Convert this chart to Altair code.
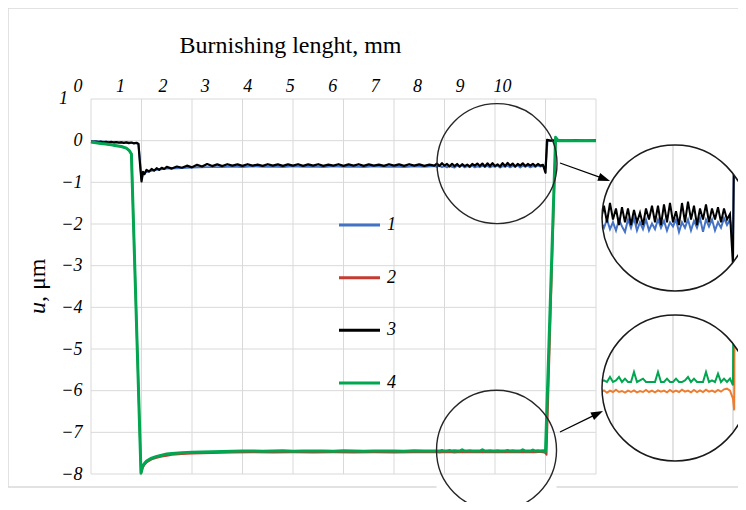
import altair as alt
import pandas as pd

SERIF = "Liberation Serif"

# ---------------- data ----------------
X_TICKS = [0, 1, 2, 3, 4, 5, 6, 7, 8, 9, 10]
Y_TICKS = [-8, -7, -6, -5, -4, -3, -2, -1, 0, 1]
Y_TOP_LABEL = [1]
INSET_TICKS = [7, 8, 9]
SERIES = [1, 2, 3, 4]
LEGEND_LABELS = ["1", "2", "3", "4"]
MAIN_COLORS = ["#4472C4", "#C43B32", "#000000", "#00A650"]
INSET_COLORS = ["#4472C4", "#ED7D31", "#000000", "#00A650"]
MAIN_WIDTHS = [2.0, 2.0, 2.2, 3.0]

# centres of the two magnifier circles on the main plot (mm, um)
ZOOM_X = [8.04, 8.03]
ZOOM_U = [-0.55, -7.43]

# densely read part shown inside the magnified insets
X_DENSE = [6.80, 6.85, 6.90, 6.95, 7.00, 7.05, 7.10, 7.15, 7.20, 7.25,
           7.30, 7.35, 7.40, 7.45, 7.50, 7.55, 7.60, 7.65, 7.70, 7.75,
           7.80, 7.85, 7.90, 7.95, 8.00, 8.05, 8.10, 8.15, 8.20, 8.25,
           8.30, 8.35, 8.40, 8.45, 8.50, 8.55, 8.60, 8.65, 8.70, 8.75,
           8.80, 8.85, 8.90, 8.95]

# series 1 (blue)
S1_X_HEAD = [0.0, 0.2, 0.4, 0.6, 0.8, 0.9, 0.94, 0.97, 1.00, 1.03, 1.10, 1.20,
             1.30, 1.50, 1.70, 2.00, 2.30, 2.60,
             2.8, 3.0, 3.2, 3.4, 3.6, 3.8, 4.0, 4.2, 4.4, 4.6, 4.8, 5.0,
             5.2, 5.4, 5.6, 5.8, 6.0, 6.2, 6.4, 6.6]
S1_U_HEAD = [-0.01, -0.02, -0.03, -0.04, -0.05, -0.06, -0.08, -0.50, -0.92, -0.80,
             -0.75, -0.72, -0.70, -0.67, -0.66, -0.645, -0.635, -0.63,
             -0.62, -0.63, -0.615, -0.625, -0.62, -0.63, -0.615, -0.625, -0.62, -0.63,
             -0.615, -0.625, -0.62, -0.63, -0.615, -0.625, -0.62, -0.63, -0.615, -0.625]
S1_U_DENSE = [-0.61, -0.63, -0.60, -0.635, -0.61, -0.64, -0.60, -0.625, -0.645, -0.60,
              -0.63, -0.595, -0.64, -0.61, -0.635, -0.60, -0.64, -0.615, -0.635, -0.60,
              -0.63, -0.605, -0.64, -0.61, -0.625, -0.60, -0.645, -0.61, -0.63, -0.60,
              -0.64, -0.605, -0.63, -0.595, -0.645, -0.60, -0.625, -0.60, -0.64, -0.61,
              -0.63, -0.595, -0.62, -0.60]
S1_X_TAIL = [9.00, 9.04, 9.2, 9.5, 10.0]
S1_U_TAIL = [-0.66, 0.0, 0.0, 0.0, 0.0]

# series 2 (red)
S2_X_HEAD = [0.0, 0.2, 0.4, 0.6, 0.7, 0.76, 0.80, 0.99, 1.02, 1.05, 1.10, 1.20,
             1.30, 1.40, 1.50, 1.60, 1.80, 2.00, 2.40,
             2.8, 3.2, 3.6, 4.0, 4.4, 4.8, 5.2, 5.6, 6.0, 6.4]
S2_U_HEAD = [-0.03, -0.07, -0.10, -0.14, -0.18, -0.24, -0.32, -7.98, -7.86, -7.79,
             -7.72, -7.65, -7.61, -7.58, -7.56, -7.54, -7.52, -7.51, -7.495,
             -7.485, -7.48, -7.485, -7.48, -7.485, -7.48, -7.485, -7.48, -7.485, -7.48]
S2_U_DENSE = [-7.48, -7.475, -7.482, -7.476, -7.48, -7.473, -7.48, -7.477, -7.482, -7.476,
              -7.48, -7.475, -7.481, -7.477, -7.48, -7.474, -7.48, -7.476, -7.481, -7.475,
              -7.479, -7.476, -7.481, -7.474, -7.48, -7.476, -7.48, -7.473, -7.479, -7.476,
              -7.481, -7.474, -7.48, -7.475, -7.48, -7.473, -7.479, -7.476, -7.48, -7.474,
              -7.479, -7.472, -7.47, -7.476]
S2_X_TAIL = [9.00, 9.02, 9.20, 9.50, 10.0]
S2_U_TAIL = [-7.50, -7.535, 0.0, 0.0, 0.0]

# series 3 (black)
S3_X_HEAD = [0.00, 0.05, 0.10, 0.15, 0.20, 0.25, 0.30, 0.35, 0.40, 0.45, 0.50, 0.55,
             0.60, 0.65, 0.70, 0.75, 0.80, 0.85, 0.90,
             0.94, 0.97, 1.00, 1.03, 1.06, 1.10, 1.15, 1.20, 1.25, 1.30, 1.35, 1.40,
             1.45, 1.50,
             1.6, 1.7, 1.8, 1.9, 2.0, 2.1, 2.2, 2.3, 2.4, 2.5, 2.6,
             2.7, 2.8, 2.9, 3.0, 3.1, 3.2, 3.3, 3.4, 3.5, 3.6, 3.7, 3.8, 3.9, 4.0,
             4.1, 4.2, 4.3, 4.4, 4.5, 4.6, 4.7, 4.8, 4.9, 5.0, 5.1, 5.2, 5.3, 5.4,
             5.5, 5.6, 5.7, 5.8, 5.9, 6.0, 6.1, 6.2, 6.3, 6.4, 6.5, 6.6, 6.7]
S3_U_HEAD = [-0.02, -0.03, -0.02, -0.035, -0.025, -0.04, -0.03, -0.045, -0.03, -0.045,
             -0.035, -0.05, -0.04, -0.055, -0.04, -0.06, -0.045, -0.065, -0.05,
             -0.08, -0.55, -0.98, -0.75, -0.80, -0.70, -0.74, -0.68, -0.72, -0.66,
             -0.70, -0.65, -0.68, -0.63,
             -0.67, -0.62, -0.65, -0.60, -0.64, -0.58, -0.62, -0.56, -0.61, -0.57, -0.61,
             -0.565, -0.60, -0.57, -0.605, -0.565, -0.60, -0.575, -0.605, -0.565, -0.60,
             -0.57, -0.605, -0.57, -0.60, -0.565, -0.605, -0.57, -0.60, -0.565, -0.605,
             -0.575, -0.60, -0.565, -0.605, -0.57, -0.60, -0.565, -0.605, -0.57, -0.60,
             -0.575, -0.605, -0.565, -0.60, -0.57, -0.605, -0.565, -0.60, -0.57, -0.605, -0.575]
S3_U_DENSE = [-0.60, -0.55, -0.61, -0.54, -0.60, -0.56, -0.62, -0.555, -0.61, -0.56,
              -0.62, -0.565, -0.61, -0.575, -0.62, -0.56, -0.60, -0.55, -0.61, -0.55,
              -0.62, -0.545, -0.61, -0.54, -0.61, -0.57, -0.62, -0.54, -0.61, -0.535,
              -0.60, -0.55, -0.62, -0.56, -0.60, -0.545, -0.61, -0.56, -0.60, -0.555,
              -0.61, -0.56, -0.60, -0.58]
S3_X_TAIL = [9.00, 9.03, 9.10, 9.20, 9.30, 9.40, 9.50, 9.60, 9.70, 9.80, 9.90, 10.00]
S3_U_TAIL = [-0.77, 0.02, 0.00, 0.01, 0.00, 0.01, 0.00, 0.01, 0.00, 0.01, 0.00, 0.01]

# series 4 (green)
S4_X_HEAD = [0.0, 0.1, 0.2, 0.3, 0.4, 0.5, 0.6, 0.7, 0.76, 0.80, 0.99, 1.02, 1.05,
             1.10, 1.20, 1.30, 1.40, 1.50, 1.60, 1.80, 2.00, 2.20, 2.40, 2.60,
             2.8, 3.0, 3.2, 3.4, 3.6, 3.8, 4.0, 4.2, 4.4, 4.6, 4.8, 5.0,
             5.2, 5.4, 5.6, 5.8, 6.0, 6.2, 6.4, 6.6]
S4_U_HEAD = [-0.03, -0.05, -0.07, -0.08, -0.10, -0.12, -0.14, -0.18, -0.24, -0.32,
             -7.98, -7.83, -7.76, -7.69, -7.62, -7.58, -7.55, -7.52, -7.51, -7.49,
             -7.48, -7.47, -7.465, -7.46,
             -7.455, -7.45, -7.445, -7.455, -7.45, -7.44, -7.455, -7.45, -7.445, -7.45,
             -7.455, -7.44, -7.45, -7.455, -7.45, -7.445, -7.45, -7.455, -7.44, -7.45]
S4_U_DENSE = [-7.45, -7.445, -7.45, -7.435, -7.45, -7.445, -7.435, -7.45, -7.44, -7.45,
              -7.45, -7.42, -7.45, -7.445, -7.44, -7.45, -7.45, -7.45, -7.45, -7.42,
              -7.45, -7.45, -7.44, -7.45, -7.45, -7.44, -7.45, -7.45, -7.445, -7.435,
              -7.45, -7.44, -7.45, -7.45, -7.45, -7.42, -7.45, -7.445, -7.45, -7.425,
              -7.45, -7.44, -7.45, -7.44]
S4_X_TAIL = [9.00, 9.20, 9.25, 9.40, 9.60, 9.80, 10.00]
S4_U_TAIL = [-7.46, 0.08, 0.0, 0.005, 0.0, 0.005, 0.0]


def series_df(xh, uh, ud, xt, ut):
    xs = list(xh) + list(X_DENSE) + list(xt)
    us = list(uh) + list(ud) + list(ut)
    assert len(xs) == len(us), (len(xs), len(us))
    return pd.DataFrame({"x": xs, "u": us})


DFS = [
    series_df(S1_X_HEAD, S1_U_HEAD, S1_U_DENSE, S1_X_TAIL, S1_U_TAIL),
    series_df(S2_X_HEAD, S2_U_HEAD, S2_U_DENSE, S2_X_TAIL, S2_U_TAIL),
    series_df(S3_X_HEAD, S3_U_HEAD, S3_U_DENSE, S3_X_TAIL, S3_U_TAIL),
    series_df(S4_X_HEAD, S4_U_HEAD, S4_U_DENSE, S4_X_TAIL, S4_U_TAIL),
]

ONE = pd.DataFrame({"k": [0]})
GRID = "#d9d9d9"

# ---------------- main panel ----------------
XS = alt.Scale(domain=[0, 10], nice=False, zero=False)
YS = alt.Scale(domain=[-8, 1], nice=False, zero=False)
Y_AXIS = alt.Axis(values=[v for v in Y_TICKS if v not in Y_TOP_LABEL],
                  grid=False, domain=False, ticks=False,
                  labelFont=SERIF, labelFontStyle="italic", labelFontSize=18,
                  labelColor="black", labelPadding=9, labelFlush=False, title=None)


def xenc():
    return alt.X("x:Q", scale=XS, axis=None)


def yenc():
    return alt.Y("u:Q", scale=YS, axis=Y_AXIS)


zoom_df = pd.DataFrame({"x": ZOOM_X, "u": ZOOM_U})

white_box = alt.Chart(zoom_df).transform_filter("datum.u < -4").mark_point(
    shape="square", size=14400, filled=True, color="white", opacity=1, strokeWidth=0
).encode(x=xenc(), y=yenc())

grid_v = alt.Chart(pd.DataFrame({"x": X_TICKS})).mark_rule(
    color=GRID, strokeWidth=1).encode(x=xenc())
grid_h = alt.Chart(pd.DataFrame({"u": Y_TICKS})).mark_rule(
    color=GRID, strokeWidth=1).encode(y=yenc())

# the top y label ("1") sits further left in the reference, clear of the top x label "0"
top_label = alt.Chart(pd.DataFrame({"u": Y_TOP_LABEL, "t": [str(v) for v in Y_TOP_LABEL]})
                      ).mark_text(align="right", baseline="middle", font=SERIF,
                                  fontStyle="italic", fontSize=18, color="black"
                                  ).encode(x=alt.value(-23), y=yenc(), text="t:N")

lines = [
    alt.Chart(DFS[i]).mark_line(color=MAIN_COLORS[i], strokeWidth=MAIN_WIDTHS[i],
                                strokeJoin="round").encode(x=xenc(), y=yenc())
    for i in range(4)
]

zoom_circles = alt.Chart(zoom_df).mark_point(
    shape="circle", size=14400, filled=False, color="#262626", strokeWidth=1.4, opacity=1
).encode(x=xenc(), y=yenc())

data_layer = alt.layer(white_box, grid_v, grid_h, *lines, zoom_circles, top_label)

X_AXIS = alt.Axis(orient="top", values=X_TICKS, grid=False, domain=False, ticks=False,
                  labelFont=SERIF, labelFontStyle="italic", labelFontSize=18,
                  labelColor="black", labelPadding=8, labelFlush=False,
                  labelBaseline="alphabetic",
                  title="Burnishing lenght, mm", titleFont=SERIF, titleFontSize=24,
                  titleFontWeight="normal", titleColor="black", titleX=199, titleY=-47,
                  titleAlign="center", titleBaseline="alphabetic")
axis_layer = alt.Chart(pd.DataFrame({"t": X_TICKS})).mark_point(opacity=0).encode(
    x=alt.X("t:Q", scale=alt.Scale(domain=[0, 10], range=[-13.5, 411], nice=False),
            axis=X_AXIS))

leg_df = pd.DataFrame({"k": SERIES, "lab": LEGEND_LABELS, "c": MAIN_COLORS})
LEG_Y = alt.Y("k:Q", scale=alt.Scale(domain=[1, 4], range=[126, 284], nice=False), axis=None)
leg_rules = alt.Chart(leg_df).mark_rule(strokeWidth=3).encode(
    x=alt.value(248), x2=alt.value(289), y=LEG_Y, color=alt.Color("c:N", scale=None))
leg_text = alt.Chart(leg_df).mark_text(
    align="left", baseline="middle", font=SERIF, fontStyle="italic", fontSize=18,
    color="black").encode(x=alt.value(296), y=LEG_Y, text="lab:N")
legend_layer = alt.layer(leg_rules, leg_text)

frame = alt.Chart(ONE).mark_rect(fillOpacity=0, stroke=GRID, strokeWidth=1.5).encode(
    x=alt.value(-83), x2=alt.value(660), y=alt.value(-91), y2=alt.value(388))

ytitle_u = alt.Chart(ONE).mark_text(
    text="u", font=SERIF, fontStyle="italic", fontSize=24, angle=270,
    align="right", baseline="alphabetic", color="black"
).encode(x=alt.value(-46), y=alt.value(203))
ytitle_rest = alt.Chart(ONE).mark_text(
    text=", μm", font=SERIF, fontSize=24, angle=270,
    align="left", baseline="alphabetic", color="black"
).encode(x=alt.value(-46), y=alt.value(203))

main = alt.layer(frame, data_layer, axis_layer, legend_layer, ytitle_u, ytitle_rest
                 ).resolve_scale(x="independent", y="independent"
                                 ).properties(width=505, height=375)

# ---------------- insets ----------------
INSET_X = alt.Scale(domain=[6.817, 9.25], nice=False, zero=False)


def inset(idx_list, ydom, arrow_tail, arrow_head, arrow_angle):
    ys = alt.Scale(domain=ydom, nice=False, zero=False)
    grid = alt.Chart(pd.DataFrame({"x": INSET_TICKS})).mark_rule(
        color=GRID, strokeWidth=1.5, clip=True).encode(x=alt.X("x:Q", scale=INSET_X, axis=None))
    ls = [
        alt.Chart(DFS[i]).mark_line(color=INSET_COLORS[i], strokeWidth=2, clip=True).encode(
            x=alt.X("x:Q", scale=INSET_X, axis=None), y=alt.Y("u:Q", scale=ys, axis=None))
        for i in idx_list
    ]
    ring = alt.Chart(ONE).mark_point(
        shape="circle", size=186 * 186, filled=False, color="white", strokeWidth=40,
        opacity=1, clip=True).encode(x=alt.value(73), y=alt.value(73))
    outline = alt.Chart(ONE).mark_point(
        shape="circle", size=146 * 146, filled=False, color="#1a1a1a", strokeWidth=1.5,
        opacity=1).encode(x=alt.value(73), y=alt.value(73))
    arrow = alt.Chart(ONE).mark_rule(color="black", strokeWidth=1.3).encode(
        x=alt.value(arrow_tail[0]), y=alt.value(arrow_tail[1]),
        x2=alt.value(arrow_head[0]), y2=alt.value(arrow_head[1]))
    head = alt.Chart(ONE).mark_point(
        shape="M1,0L-1,-0.7L-1,0.7Z", size=144, filled=True, color="black", opacity=1,
        angle=arrow_angle).encode(x=alt.value(arrow_head[0]), y=alt.value(arrow_head[1]))
    return alt.layer(grid, *ls, ring, outline, arrow, head).properties(width=146, height=146)


inset1 = inset([0, 2, 3], [-0.860, -0.329], (-42, 18), (2.4, 33.9), 19.8)
inset2 = inset([1, 3], [-7.687, -7.249], (-42, 117), (-4.4, 98.6), 334)

spacer = alt.Chart(ONE).mark_point(opacity=0).encode(
    x=alt.value(0), y=alt.value(0)).properties(width=146, height=22)

right = alt.vconcat(spacer, inset1, inset2, spacing=24, bounds="flush")

# fixed canvas of 730 x 494 px; plot origin 83 px right / 91 px down of the canvas corner
chart = alt.hconcat(main, right, spacing=6, bounds="flush").properties(
    autosize=alt.AutoSizeParams(type="none"),
    padding={"left": 83, "top": 91, "right": 647, "bottom": 403},
    background="white",
).configure(font=SERIF).configure_view(stroke=None)

chart.save("out.html", embed_options={"renderer": "svg", "actions": False})
